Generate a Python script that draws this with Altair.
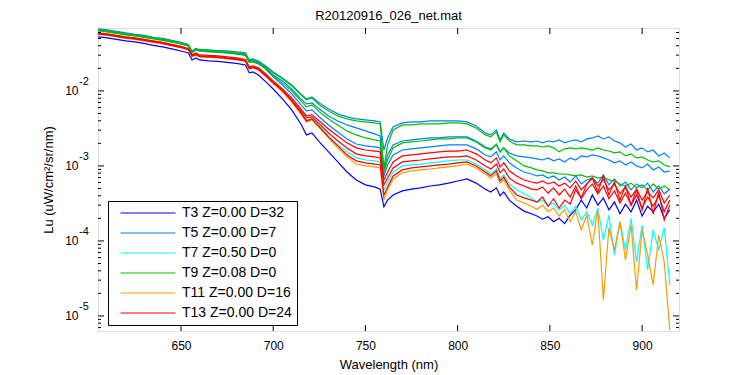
import altair as alt
import pandas as pd

# ---------------- data ----------------
WAVELENGTH = [605, 610, 615, 620, 625, 630, 635, 640, 645, 650,
              654, 656, 658, 660, 665, 670, 675, 680, 685, 687,
              689, 692, 696, 700, 705, 710, 715, 718, 721, 725,
              730, 735, 740, 745, 750, 755, 758, 760, 762, 765,
              770, 775, 780, 785, 790, 795, 800, 805, 810, 815,
              818, 821, 823, 825, 828, 832, 836, 840, 843, 846,
              849, 852, 855, 858, 861, 864, 867, 870, 873, 876,
              879, 882, 885, 888, 891, 894, 897, 900, 903, 906,
              909, 912, 915]

T3 = [0.0525, 0.0509, 0.0486, 0.0464, 0.0450, 0.0430, 0.0404, 0.0386, 0.0363, 0.0341,
      0.0321, 0.0259, 0.0275, 0.0259, 0.0251, 0.0247, 0.0240, 0.0233, 0.0222, 0.0174,
      0.0179, 0.0163, 0.0132, 0.0106, 0.00782, 0.00558, 0.00363, 0.00259, 0.00275, 0.00209,
      0.00154, 0.00113, 0.00083, 0.00065, 0.00056, 0.000525, 0.00049, 0.000285, 0.00035, 0.00041,
      0.000465, 0.00049, 0.00051, 0.00054, 0.00056, 0.00059, 0.00063, 0.00067, 0.00059, 0.00049,
      0.00045, 0.00051, 0.00040, 0.00045, 0.00035, 0.00029, 0.00025, 0.00023, 0.000215, 0.000195,
      0.00021, 0.00018, 0.00020, 0.00017, 0.00022, 0.00026, 0.00035, 0.000275, 0.00041, 0.00030,
      0.000375, 0.00026, 0.00033, 0.00023, 0.00031, 0.000245, 0.00035, 0.000215, 0.00029, 0.000245,
      0.00031, 0.00020, 0.00026]

T5_A = [0.0671, 0.0651, 0.0621, 0.0593, 0.0566, 0.0549, 0.0517, 0.0501, 0.0471, 0.0443,
        0.0417, 0.0341, 0.0368, 0.0357, 0.0352, 0.0346, 0.0341, 0.0331, 0.0321, 0.0259,
        0.0267, 0.0251, 0.0215, 0.0179, 0.0149, 0.0120, 0.00912, 0.00782, 0.00830, 0.00692,
        0.00575, 0.00494, 0.00450, 0.00423, 0.00411, 0.00398, 0.00386, 0.00163, 0.00236, 0.00331,
        0.00374, 0.00386, 0.00386, 0.00398, 0.00398, 0.00398, 0.00398, 0.00386, 0.00341, 0.00275,
        0.00259, 0.00302, 0.00222, 0.00275, 0.00229, 0.00209, 0.00215, 0.00209, 0.00215, 0.00203,
        0.00215, 0.00209, 0.00222, 0.00203, 0.00215, 0.00222, 0.00209, 0.00229, 0.00236, 0.00251,
        0.00229, 0.00244, 0.00215, 0.00203, 0.00179, 0.00196, 0.00163, 0.00174, 0.00154, 0.00163,
        0.00136, 0.00149, 0.00128]

T5_B = [0.0641, 0.0621, 0.0593, 0.0566, 0.0549, 0.0525, 0.0501, 0.0479, 0.0450, 0.0423,
        0.0398, 0.0331, 0.0352, 0.0341, 0.0336, 0.0331, 0.0321, 0.0311, 0.0302, 0.0244,
        0.0251, 0.0236, 0.0203, 0.0163, 0.0136, 0.0106, 0.00782, 0.00671, 0.00692, 0.00575,
        0.00464, 0.00398, 0.00352, 0.00321, 0.00293, 0.00267, 0.00251, 0.000885, 0.00140, 0.00191,
        0.00215, 0.00222, 0.00229, 0.00236, 0.00236, 0.00244, 0.00244, 0.00244, 0.00215, 0.00179,
        0.00169, 0.00191, 0.00154, 0.00174, 0.00149, 0.00136, 0.00132, 0.00128, 0.00124, 0.00120,
        0.00128, 0.00117, 0.00124, 0.00113, 0.00128, 0.00120, 0.00136, 0.00132, 0.00140, 0.00136,
        0.00128, 0.00120, 0.00110, 0.00117, 0.00103, 0.00113, 0.00100, 0.00094, 0.00106, 0.000885,
        0.00097, 0.00083, 0.00086]

T5_C = [0.0651, 0.0631, 0.0602, 0.0575, 0.0558, 0.0533, 0.0509, 0.0486, 0.0457, 0.0430,
        0.0404, 0.0331, 0.0357, 0.0346, 0.0341, 0.0336, 0.0326, 0.0316, 0.0302, 0.0244,
        0.0247, 0.0233, 0.0196, 0.0154, 0.0120, 0.00912, 0.00651, 0.00541, 0.00558, 0.00450,
        0.00352, 0.00284, 0.00229, 0.00196, 0.00185, 0.00179, 0.00174, 0.000735, 0.00103, 0.00140,
        0.00163, 0.00169, 0.00174, 0.00179, 0.00185, 0.00191, 0.00191, 0.00191, 0.00169, 0.00140,
        0.00132, 0.00154, 0.00120, 0.00136, 0.00110, 0.00094, 0.00083, 0.00078, 0.000735, 0.00076,
        0.00069, 0.000735, 0.00065, 0.00071, 0.00061, 0.000735, 0.000575, 0.00065, 0.00069, 0.00059,
        0.00076, 0.00056, 0.00067, 0.00054, 0.00061, 0.00048, 0.000575, 0.00051, 0.00059, 0.00045,
        0.00054, 0.000425, 0.00049]

T7 = [0.0575, 0.0558, 0.0533, 0.0509, 0.0494, 0.0471, 0.0450, 0.0430, 0.0404, 0.0380,
      0.0357, 0.0293, 0.0306, 0.0288, 0.0284, 0.0280, 0.0271, 0.0263, 0.0251, 0.0199,
      0.0206, 0.0193, 0.0158, 0.0128, 0.0100, 0.00736, 0.00509, 0.00411, 0.00423, 0.00341,
      0.00251, 0.00191, 0.00154, 0.00128, 0.00120, 0.00117, 0.00113, 0.00048, 0.00061, 0.00083,
      0.00100, 0.00103, 0.00106, 0.00110, 0.00113, 0.00117, 0.00120, 0.00120, 0.00106, 0.000885,
      0.00078, 0.00091, 0.00069, 0.00076, 0.000575, 0.00048, 0.000425, 0.000375, 0.00033, 0.00035,
      0.00029, 0.00032, 0.00026, 0.00030, 0.00023, 0.00029, 0.00019, 0.000245, 0.000163, 0.000275,
      0.000103, 0.00022, 0.000065, 0.00018, 0.000076, 0.00020, 0.0000525, 0.000163, 0.000041, 0.00014,
      0.000076, 0.00015, 0.000026]

T9_A = [0.0651, 0.0631, 0.0612, 0.0575, 0.0558, 0.0541, 0.0509, 0.0494, 0.0464, 0.0437,
        0.0411, 0.0331, 0.0363, 0.0352, 0.0341, 0.0341, 0.0331, 0.0321, 0.0311, 0.0251,
        0.0259, 0.0244, 0.0209, 0.0174, 0.0145, 0.0117, 0.00885, 0.00759, 0.00807, 0.00651,
        0.00541, 0.00464, 0.00423, 0.00398, 0.00386, 0.00374, 0.00363, 0.00094, 0.00191, 0.00302,
        0.00352, 0.00352, 0.00363, 0.00363, 0.00363, 0.00374, 0.00374, 0.00363, 0.00321, 0.00259,
        0.00244, 0.00284, 0.00209, 0.00259, 0.00215, 0.00191, 0.00191, 0.00185, 0.00185, 0.00179,
        0.00185, 0.00174, 0.00154, 0.00169, 0.00174, 0.00169, 0.00174, 0.00169, 0.00163, 0.00174,
        0.00163, 0.00158, 0.00149, 0.00154, 0.00136, 0.00145, 0.00128, 0.00132, 0.00120, 0.00113,
        0.00117, 0.00103, 0.00097]

T9_B = [0.0631, 0.0612, 0.0584, 0.0558, 0.0541, 0.0517, 0.0494, 0.0471, 0.0450, 0.0423,
        0.0398, 0.0321, 0.0352, 0.0341, 0.0331, 0.0326, 0.0321, 0.0311, 0.0297, 0.0240,
        0.0244, 0.0229, 0.0196, 0.0158, 0.0128, 0.0100, 0.00736, 0.00612, 0.00651, 0.00525,
        0.00423, 0.00352, 0.00293, 0.00259, 0.00236, 0.00222, 0.00215, 0.00083, 0.00120, 0.00174,
        0.00203, 0.00209, 0.00215, 0.00222, 0.00229, 0.00229, 0.00236, 0.00236, 0.00209, 0.00174,
        0.00163, 0.00196, 0.00154, 0.00174, 0.00136, 0.00117, 0.00100, 0.00094, 0.000885, 0.00086,
        0.00081, 0.00081, 0.00078, 0.00078, 0.00076, 0.000735, 0.00076, 0.00071, 0.000735, 0.00069,
        0.00071, 0.00065, 0.00063, 0.000575, 0.00054, 0.00059, 0.00051, 0.00056, 0.00048, 0.000575,
        0.00049, 0.00054, 0.00048]

T11 = [0.0566, 0.0549, 0.0525, 0.0501, 0.0486, 0.0464, 0.0443, 0.0423, 0.0398, 0.0374,
       0.0352, 0.0288, 0.0302, 0.0284, 0.0280, 0.0275, 0.0267, 0.0259, 0.0247, 0.0196,
       0.0203, 0.0191, 0.0156, 0.0124, 0.0097, 0.00714, 0.00494, 0.00386, 0.00411, 0.00321,
       0.00236, 0.00174, 0.00132, 0.00106, 0.00100, 0.00097, 0.00094, 0.00035, 0.00048, 0.00067,
       0.00081, 0.00086, 0.000885, 0.00091, 0.00094, 0.00097, 0.00100, 0.00106, 0.00094, 0.00078,
       0.00069, 0.00078, 0.00059, 0.00065, 0.00048, 0.00035, 0.00032, 0.00029, 0.000265, 0.00030,
       0.000245, 0.000275, 0.000215, 0.00026, 0.00018, 0.000245, 0.00014, 0.00022, 0.0000885, 0.00026,
       0.0000163, 0.00015, 0.000076, 0.00018, 0.000056, 0.000163, 0.000022, 0.00014, 0.000065, 0.000026,
       0.00012, 0.0000525, 0.0000065]

T13_A = [0.0575, 0.0558, 0.0533, 0.0509, 0.0494, 0.0471, 0.0450, 0.0430, 0.0404, 0.0380,
         0.0357, 0.0293, 0.0306, 0.0288, 0.0284, 0.0280, 0.0271, 0.0263, 0.0251, 0.0199,
         0.0206, 0.0193, 0.0158, 0.0128, 0.0100, 0.00736, 0.00509, 0.00398, 0.00423, 0.00331,
         0.00244, 0.00185, 0.00140, 0.00117, 0.00110, 0.00106, 0.00103, 0.00041, 0.000525, 0.000735,
         0.000885, 0.00094, 0.00097, 0.00100, 0.00103, 0.00106, 0.00110, 0.00113, 0.00100, 0.00083,
         0.000735, 0.00086, 0.00063, 0.00071, 0.000525, 0.00041, 0.000375, 0.00035, 0.00033, 0.000385,
         0.00029, 0.000365, 0.000275, 0.00035, 0.00031, 0.00048, 0.000375, 0.000575, 0.00069, 0.00045,
         0.000735, 0.00041, 0.00061, 0.00035, 0.00054, 0.00030, 0.00048, 0.00026, 0.00051, 0.00023,
         0.00045, 0.00019, 0.00030]

T13_B = [0.0593, 0.0575, 0.0549, 0.0525, 0.0509, 0.0486, 0.0464, 0.0443, 0.0417, 0.0392,
         0.0368, 0.0302, 0.0321, 0.0302, 0.0297, 0.0293, 0.0284, 0.0275, 0.0263, 0.0209,
         0.0215, 0.0203, 0.0169, 0.0136, 0.0106, 0.00807, 0.00575, 0.00464, 0.00479, 0.00398,
         0.00311, 0.00251, 0.00203, 0.00174, 0.00163, 0.00158, 0.00154, 0.00065, 0.00083, 0.00113,
         0.00136, 0.00140, 0.00145, 0.00149, 0.00154, 0.00158, 0.00158, 0.00163, 0.00145, 0.00120,
         0.00110, 0.00128, 0.00097, 0.00110, 0.00086, 0.000735, 0.00065, 0.00061, 0.00059, 0.00063,
         0.000575, 0.00061, 0.00054, 0.00059, 0.00051, 0.00063, 0.00048, 0.000575, 0.00069, 0.00054,
         0.00065, 0.00048, 0.000575, 0.000425, 0.000525, 0.000385, 0.00049, 0.00035, 0.00045, 0.000375,
         0.00048, 0.00032, 0.00041]

T13_C = [0.0584, 0.0566, 0.0541, 0.0517, 0.0501, 0.0479, 0.0457, 0.0437, 0.0411, 0.0386,
         0.0363, 0.0293, 0.0311, 0.0293, 0.0288, 0.0284, 0.0275, 0.0267, 0.0255, 0.0203,
         0.0209, 0.0196, 0.0163, 0.0132, 0.0103, 0.00759, 0.00541, 0.00437, 0.00450, 0.00363,
         0.00275, 0.00215, 0.00174, 0.00145, 0.00136, 0.00132, 0.00128, 0.00056, 0.00069, 0.00094,
         0.00113, 0.00117, 0.00120, 0.00124, 0.00128, 0.00132, 0.00132, 0.00136, 0.00120, 0.00100,
         0.00091, 0.00106, 0.00081, 0.00091, 0.00069, 0.00059, 0.00054, 0.00049, 0.00048, 0.000525,
         0.000435, 0.00051, 0.00041, 0.00049, 0.000385, 0.00054, 0.000365, 0.00048, 0.000575, 0.000425,
         0.00054, 0.000365, 0.000465, 0.00032, 0.000435, 0.00030, 0.00041, 0.000275, 0.000385, 0.00029,
         0.00040, 0.000245, 0.00035]

LABELS = ["T3 Z=0.00 D=32", "T5 Z=0.00 D=7", "T7 Z=0.50 D=0",
          "T9 Z=0.08 D=0", "T11 Z=0.00 D=16", "T13 Z=0.00 D=24"]
COLORS = ["#0000ff", "#0080ff", "#00ffff", "#00c000", "#ff9900", "#ff0000"]

SERIES = [
    ("T3", LABELS[0], T3),
    ("T5a", LABELS[1], T5_A), ("T5b", LABELS[1], T5_B), ("T5c", LABELS[1], T5_C),
    ("T7", LABELS[2], T7),
    ("T9a", LABELS[3], T9_A), ("T9b", LABELS[3], T9_B),
    ("T11", LABELS[4], T11),
    ("T13a", LABELS[5], T13_A), ("T13b", LABELS[5], T13_B), ("T13c", LABELS[5], T13_C),
]

X_DOMAIN = [605, 920]
Y_DOMAIN = [6.3e-6, 0.069]
X_TICKS = [650, 700, 750, 800, 850, 900]
Y_MAJOR = [1e-5, 1e-4, 1e-3, 1e-2]
Y_EXPONENTS = ["-5", "-4", "-3", "-2"]
Y_MINOR = [7e-6, 8e-6, 9e-6,
           2e-5, 3e-5, 4e-5, 5e-5, 6e-5, 7e-5, 8e-5, 9e-5,
           2e-4, 3e-4, 4e-4, 5e-4, 6e-4, 7e-4, 8e-4, 9e-4,
           2e-3, 3e-3, 4e-3, 5e-3, 6e-3, 7e-3, 8e-3, 9e-3,
           2e-2, 3e-2, 4e-2, 5e-2, 6e-2]

rows = []
for name, label, vals in SERIES:
    for wl, v in zip(WAVELENGTH, vals):
        rows.append({"Wavelength": wl, "Lu": v, "cast": label, "line": name})
df = pd.DataFrame(rows)

W, H = 581, 303
FONT = "Liberation Sans"
xs = alt.Scale(domain=X_DOMAIN, nice=False, zero=False)
ys = alt.Scale(type="log", domain=Y_DOMAIN, nice=False)

X_AXIS = alt.Axis(values=X_TICKS, title="Wavelength (nm)", format="d",
                  labelFontSize=12, titleFontSize=13, titleFontWeight="normal",
                  tickSize=0, domain=False, grid=False, labelPadding=9,
                  titleBaseline="alphabetic", titleY=37,
                  labelColor="black", titleColor="black",
                  labelFont=FONT, titleFont=FONT)
Y_AXIS = alt.Axis(values=Y_MAJOR, labelExpr="'10'",
                  title="Lu (uW/cm\u00b2/sr/nm)",
                  labelFontSize=12, titleFontSize=13, titleFontWeight="normal",
                  tickSize=0, domain=False, grid=False, labelPadding=20,
                  titleX=-50, titleY=H / 2, titleBaseline="middle", titleAlign="center",
                  labelColor="black", titleColor="black",
                  labelFont=FONT, titleFont=FONT)

lines = alt.Chart(df).mark_line(strokeWidth=1.2, clip=True).encode(
    x=alt.X("Wavelength:Q", scale=xs, axis=X_AXIS),
    y=alt.Y("Lu:Q", scale=ys, axis=Y_AXIS),
    color=alt.Color("cast:N", scale=alt.Scale(domain=LABELS, range=COLORS),
                    legend=alt.Legend(title=None, orient="none", legendX=10, legendY=173,
                                      direction="vertical", symbolType="M-5,0H5",
                                      symbolSize=121, symbolStrokeWidth=1.2, symbolOffset=28,
                                      labelFontSize=14, labelFont=FONT, labelColor="black",
                                      labelOffset=27, rowPadding=6, padding=5,
                                      strokeColor="black", fillColor="white",
                                      cornerRadius=0)),
    detail="line:N",
)

ymaj = pd.DataFrame({"Lu": Y_MAJOR, "exp": Y_EXPONENTS})
ymin = pd.DataFrame({"Lu": Y_MINOR})
xmaj = pd.DataFrame({"Wavelength": X_TICKS})


def ytick(data, x1, x2):
    return alt.Chart(data).mark_rule(color="black", strokeWidth=1).encode(
        y=alt.Y("Lu:Q", scale=ys, axis=Y_AXIS), x=alt.value(x1), x2=alt.value(x2))


def xtick(data, y1, y2):
    return alt.Chart(data).mark_rule(color="black", strokeWidth=1).encode(
        x=alt.X("Wavelength:Q", scale=xs, axis=X_AXIS), y=alt.value(y1), y2=alt.value(y2))


exponents = alt.Chart(ymaj).mark_text(
    align="left", baseline="alphabetic", dy=-6, fontSize=11, font=FONT, color="black"
).encode(
    y=alt.Y("Lu:Q", scale=ys, axis=Y_AXIS), x=alt.value(-19), text="exp:N")

chart = alt.layer(
    lines,
    ytick(ymaj, 0, 6), ytick(ymin, 0, 3),
    ytick(ymaj, W, W - 6), ytick(ymin, W, W - 3),
    xtick(xmaj, H, H - 6), xtick(xmaj, 0, 6),
    exponents,
).properties(
    width=W, height=H,
    title=alt.TitleParams("R20120916_026_net.mat", fontSize=13, fontWeight="normal",
                          font=FONT, color="black", anchor="middle", frame="group",
                          baseline="alphabetic", offset=11, dy=16),
    autosize=alt.AutoSizeParams(type="none"),
    padding={"left": 90, "top": 20, "right": 60, "bottom": 44},
).configure_view(stroke="black", strokeWidth=1).configure(background="white")

chart.save("out.html", embed_options={"renderer": "svg", "actions": False})
